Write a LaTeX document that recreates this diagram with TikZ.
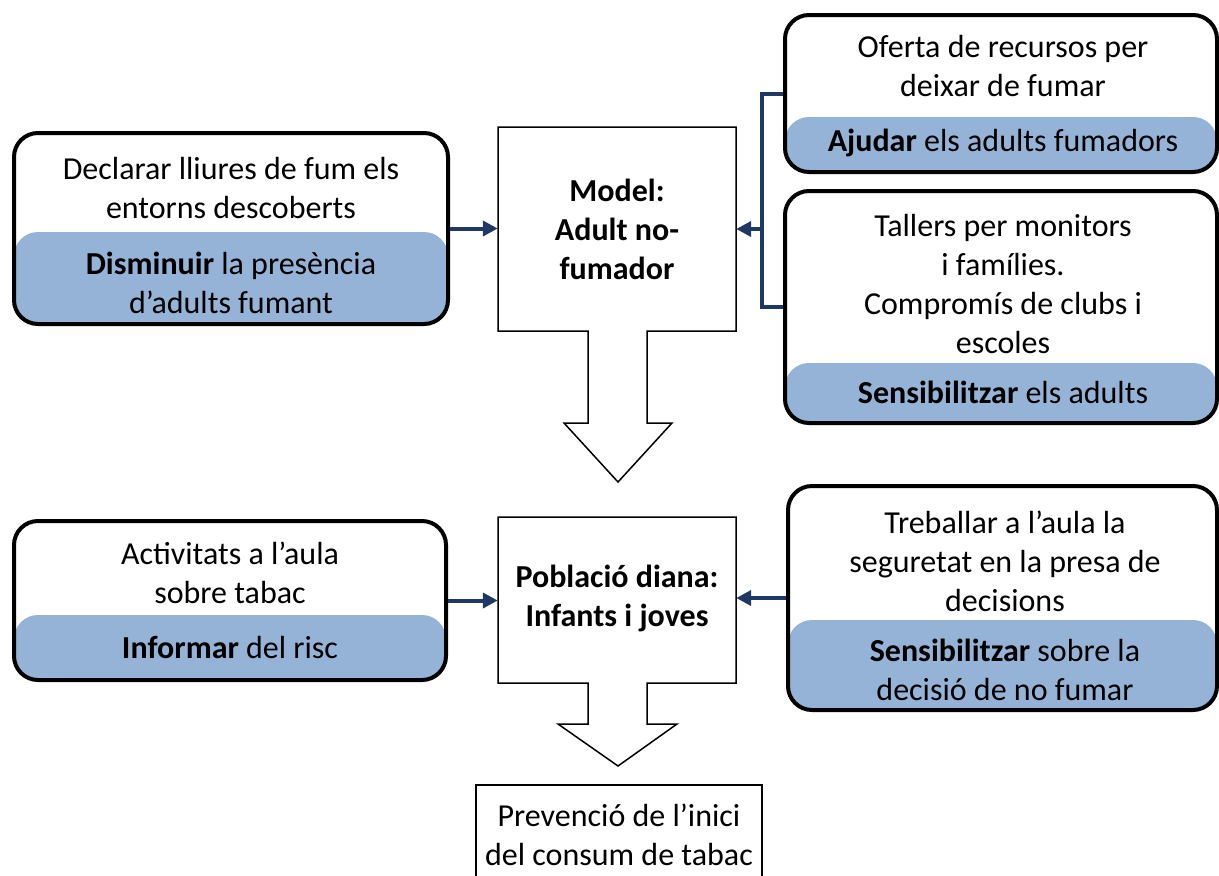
\documentclass[tikz,border=0pt]{standalone}
\usepackage{fontspec}
\setmainfont{Carlito}
\usetikzlibrary{arrows.meta,fit}
\definecolor{bandblue}{HTML}{95B3D7}
\definecolor{connblue}{HTML}{1F3864}
\newcommand\bandbox[6]{%
  \begin{scope}
    \clip[rounded corners=24pt] (#2,#3) rectangle (#4,#5);
    \fill[bandblue, rounded corners=24pt] (#2,#6) rectangle (#4,#5);
  \end{scope}
  \node[rbox, fit={(#2,#3) (#4,#5)}] (#1) {};
}
\begin{document}
\begin{tikzpicture}[x=1pt,y=-1pt,
  rbox/.style={draw=black, line width=4pt, rounded corners=24pt, inner sep=0pt},
  txt/.style={align=center, font=\fontsize{32}{39}\selectfont, inner sep=0pt},
  btxt/.style={align=center, font=\fontsize{32}{39}\selectfont\bfseries, inner sep=0pt},
  link/.style={draw=connblue, line width=4pt, -{Triangle[length=15pt,width=15pt]}},
  plainline/.style={draw=connblue, line width=4pt},
  thin/.style={draw=black, line width=1.5pt},
  area/.style={inner sep=0pt}
]
\useasboundingbox (0,0) rectangle (1219,876);

% side boxes
\bandbox{b1}{14}{133}{448}{324}{232}
\node[txt] (b1t) at (231,188) {Declarar lliures de fum els\\entorns descoberts};
\node[txt] (b1b) at (231,283) {\textbf{Disminuir} la presència\\d’adults fumant};

\bandbox{b2}{785}{15}{1217}{172}{117}
\node[txt] (b2t) at (1003,66) {Oferta de recursos per\\deixar de fumar};
\node[txt] (b2b) at (1003,143) {\textbf{Ajudar} els adults fumadors};

\bandbox{b3}{785}{191}{1217}{423}{363}
\node[txt] (b3t) at (1003,284) {Tallers per monitors\\i famílies.\\Compromís de clubs i\\escoles};
\node[txt] (b3b) at (1003,392) {\textbf{Sensibilitzar} els adults};

\bandbox{b4}{14}{521}{446}{680}{615}
\node[txt] (b4t) at (230,573) {Activitats a l’aula\\sobre tabac};
\node[txt] (b4b) at (230,647) {\textbf{Informar} del risc};

\bandbox{b5}{788}{486}{1217}{710}{620}
\node[txt] (b5t) at (1005,561) {Treballar a l’aula la\\seguretat en la presa de\\decisions};
\node[txt] (b5b) at (1005,670) {\textbf{Sensibilitzar} sobre la\\decisió de no fumar};

% central arrow boxes
\draw[thin] (498,127) -- (736,127) -- (736,331) -- (647,331) -- (647,423) -- (672,423)
  -- (618,482) -- (564,423) -- (588,423) -- (588,331) -- (498,331) -- cycle;
\node[area, fit={(498,127) (736,331)}] (model) {};
\node[btxt] (modelt) at (617,229) {Model:\\Adult no-\\fumador};

\draw[thin] (498,517) -- (736,517) -- (736,683) -- (647,683) -- (647,724) -- (677,724)
  -- (618,766) -- (558,724) -- (588,724) -- (588,683) -- (498,683) -- cycle;
\node[area, fit={(498,517) (736,683)}] (pop) {};
\node[btxt] (popt) at (617,598) {Població diana:\\Infants i joves};

\node[thin, inner sep=0pt, fit={(476,785) (762,890)}] (prev) {};
\node[txt] (prevt) at (619,835) {Prevenció de l’inici\\del consum de tabac};

% connectors
\draw[link] (b1.east) -- (b1.east -| model.west);
\coordinate (j) at (762,229);
\draw[plainline] (b2.west) -| (j);
\draw[plainline] (b3.west) -| (j);
\draw[link] (j) -- (model.east);
\draw[link] (b4.east) -- (b4.east -| pop.west);
\draw[link] (b5.west) -- (b5.west -| pop.east);
\end{tikzpicture}
\end{document}
